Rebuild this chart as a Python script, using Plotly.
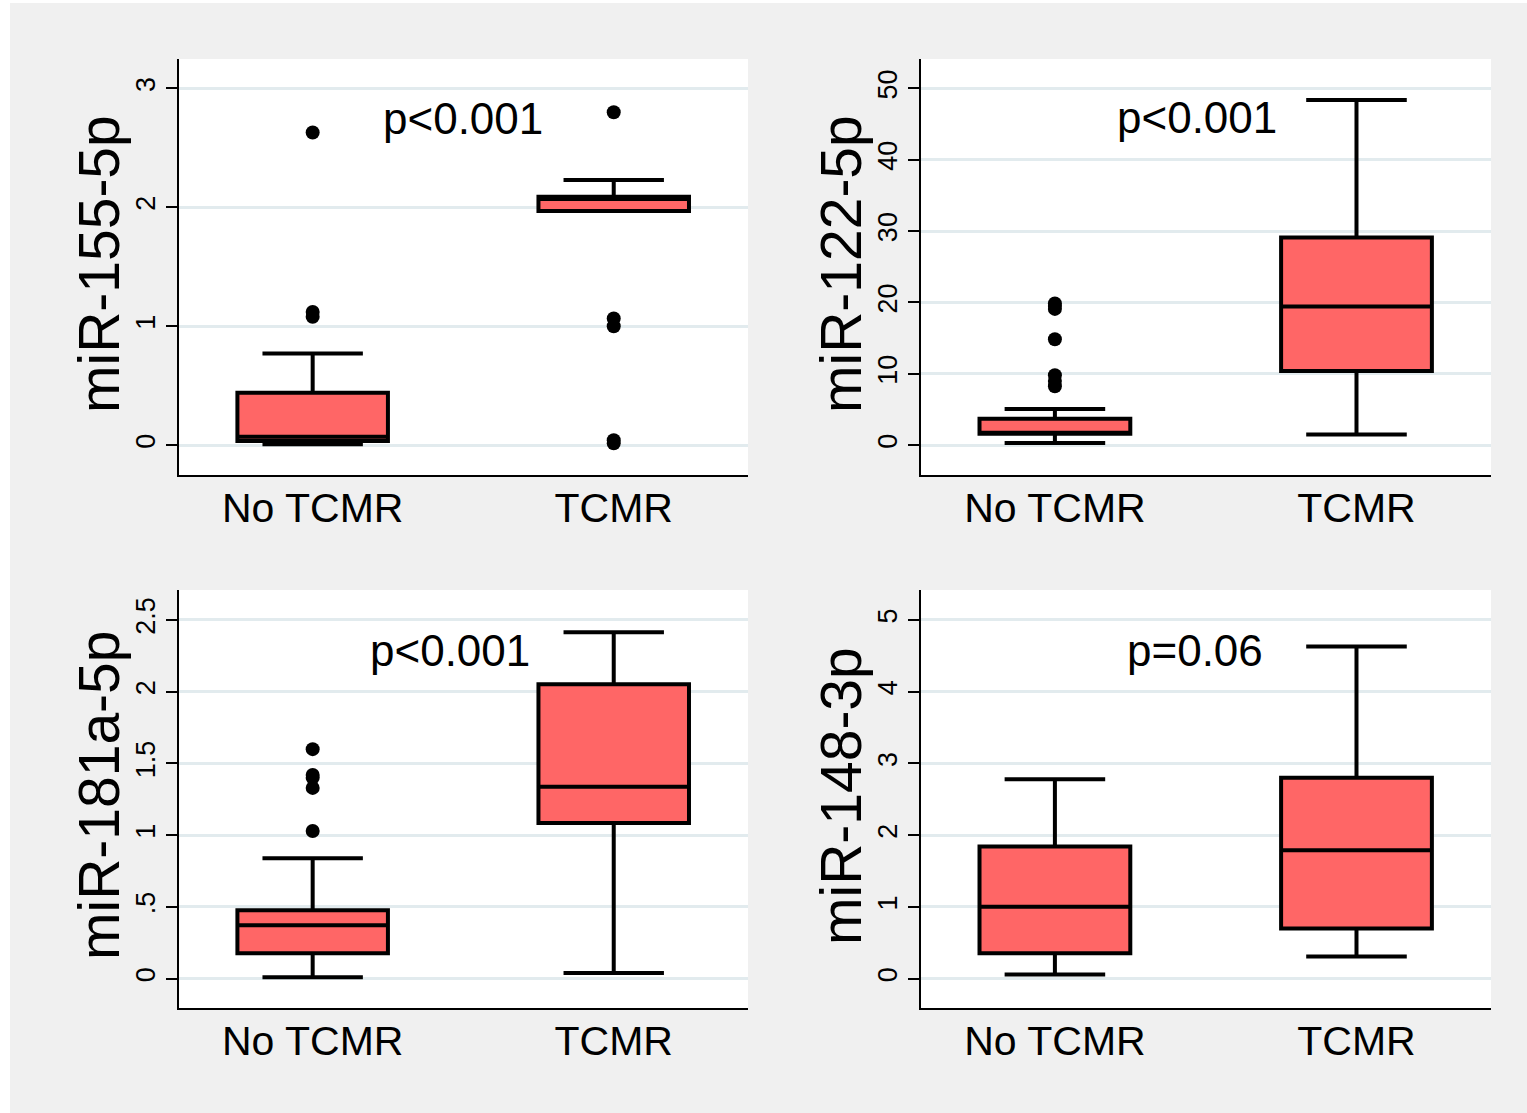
import plotly.graph_objects as go

W, H = 1527, 1113

categories = ["No TCMR", "TCMR"]

# miR-155-5p
p1_q1 = [0.035, 1.97]
p1_median = [0.07, 2.07]
p1_q3 = [0.44, 2.09]
p1_low = [0.008, 1.97]
p1_up = [0.77, 2.23]
p1_out_x = ["No TCMR", "No TCMR", "No TCMR", "TCMR", "TCMR", "TCMR", "TCMR", "TCMR"]
p1_out_y = [2.63, 1.12, 1.08, 2.80, 1.065, 1.00, 0.042, 0.015]

# miR-122-5p
p2_q1 = [1.6, 10.4]
p2_median = [1.7, 19.45]
p2_q3 = [3.7, 29.1]
p2_low = [0.3, 1.5]
p2_up = [5.07, 48.4]
p2_out_x = ["No TCMR"] * 7
p2_out_y = [19.85, 19.1, 14.85, 9.8, 9.0, 8.26, 19.5]

# miR-181a-5p
p3_q1 = [0.177, 1.086]
p3_median = [0.373, 1.337]
p3_q3 = [0.477, 2.052]
p3_low = [0.01, 0.04]
p3_up = [0.84, 2.414]
p3_out_x = ["No TCMR"] * 5
p3_out_y = [1.60, 1.42, 1.40, 1.33, 1.03]

# miR-148-3p
p4_q1 = [0.354, 0.70]
p4_median = [1.004, 1.79]
p4_q3 = [1.844, 2.80]
p4_low = [0.06, 0.31]
p4_up = [2.78, 4.63]
p4_out_x = []
p4_out_y = []

titles = ["miR-155-5p", "miR-122-5p", "miR-181a-5p", "miR-148-3p"]
pvals = ["p<0.001", "p<0.001", "p<0.001", "p=0.06"]
p_x = [0.50, 0.47, 0.455, 0.465]
p_y = [2.75, 45.9, 2.29, 4.58]

yticks = [
    ([0, 1, 2, 3], ["0", "1", "2", "3"]),
    ([0, 10, 20, 30, 40, 50], ["0", "10", "20", "30", "40", "50"]),
    ([0, 0.5, 1, 1.5, 2, 2.5], ["0", ".5", "1", "1.5", "2", "2.5"]),
    ([0, 1, 2, 3, 4, 5], ["0", "1", "2", "3", "4", "5"]),
]
yranges = [[-0.251, 3.248], [-4.18, 54.13], [-0.204, 2.709], [-0.408, 5.418]]

panels = [
    (p1_q1, p1_median, p1_q3, p1_low, p1_up, p1_out_x, p1_out_y),
    (p2_q1, p2_median, p2_q3, p2_low, p2_up, p2_out_x, p2_out_y),
    (p3_q1, p3_median, p3_q3, p3_low, p3_up, p3_out_x, p3_out_y),
    (p4_q1, p4_median, p4_q3, p4_low, p4_up, p4_out_x, p4_out_y),
]

# pixel layout of plot areas (left, right, top, bottom)
boxes_px = [(179, 748, 59, 475), (921, 1491, 59, 475),
            (179, 748, 590, 1008), (921, 1491, 590, 1008)]

FONT = "Liberation Sans, Arial, sans-serif"
FILL = "#ff6666"
GRID = "#e2ebee"

fig = go.Figure()
layout = dict(
    width=W, height=H,
    margin=dict(l=0, r=0, t=0, b=0),
    paper_bgcolor="#f0f0f0",
    plot_bgcolor="white",
    showlegend=False,
    font=dict(family=FONT, color="black"),
    shapes=[
        dict(type="rect", xref="paper", yref="paper", x0=0, x1=10 / W, y0=0, y1=1,
             fillcolor="white", line=dict(width=0), layer="below"),
        dict(type="rect", xref="paper", yref="paper", x0=0, x1=1, y0=1 - 3 / H, y1=1,
             fillcolor="white", line=dict(width=0), layer="below"),
    ],
    annotations=[],
)

for i, (q1, med, q3, lo, up, ox, oy) in enumerate(panels):
    n = "" if i == 0 else str(i + 1)
    xa, ya = "x" + n, "y" + n
    fig.add_trace(go.Box(
        x=categories, q1=q1, median=med, q3=q3, lowerfence=lo, upperfence=up,
        width=0.5, whiskerwidth=0.667, fillcolor=FILL,
        line=dict(color="black", width=4), boxpoints=False,
        xaxis=xa, yaxis=ya, hoverinfo="skip",
    ))
    if ox:
        fig.add_trace(go.Scatter(
            x=ox, y=oy, mode="markers",
            marker=dict(color="black", size=14, line=dict(width=0)),
            xaxis=xa, yaxis=ya, hoverinfo="skip",
        ))
    l, r, t, b = boxes_px[i]
    layout["xaxis" + n] = dict(
        domain=[l / W, r / W], anchor=ya,
        type="category", categoryorder="array", categoryarray=categories,
        range=[-0.444, 1.446], showgrid=False, zeroline=False,
        showline=True, linecolor="black", linewidth=1.5,
        ticks="", tickfont=dict(size=41, family=FONT, color="black"),
        ticklabelstandoff=-4,
    )
    tv, tt = yticks[i]
    layout["yaxis" + n] = dict(
        domain=[1 - b / H, 1 - t / H], anchor=xa,
        range=yranges[i], tickvals=tv, ticktext=tt, tickangle=-90,
        showgrid=True, gridcolor=GRID, gridwidth=2.5, zeroline=False,
        showline=True, linecolor="black", linewidth=1.5,
        ticks="outside", ticklen=11, tickwidth=1.5, tickcolor="black",
        tickfont=dict(size=27, family=FONT, color="black"),
    )
    layout["annotations"].append(dict(
        text=titles[i], xref="paper", yref="paper",
        x=(l - 80) / W, y=1 - ((t + b) / 2 - 3) / H, textangle=-90,
        showarrow=False, font=dict(size=57, family=FONT, color="black"),
        xanchor="center", yanchor="middle",
    ))
    layout["annotations"].append(dict(
        text=pvals[i], xref=xa, yref=ya, x=p_x[i], y=p_y[i],
        showarrow=False, font=dict(size=44, family=FONT, color="black"),
        xanchor="center", yanchor="middle",
    ))

fig.update_layout(**layout)
fig.write_html(
    "out.html",
    config={"displayModeBar": False},
    post_script="document.body.style.margin='0';document.body.style.overflow='hidden';",
)
